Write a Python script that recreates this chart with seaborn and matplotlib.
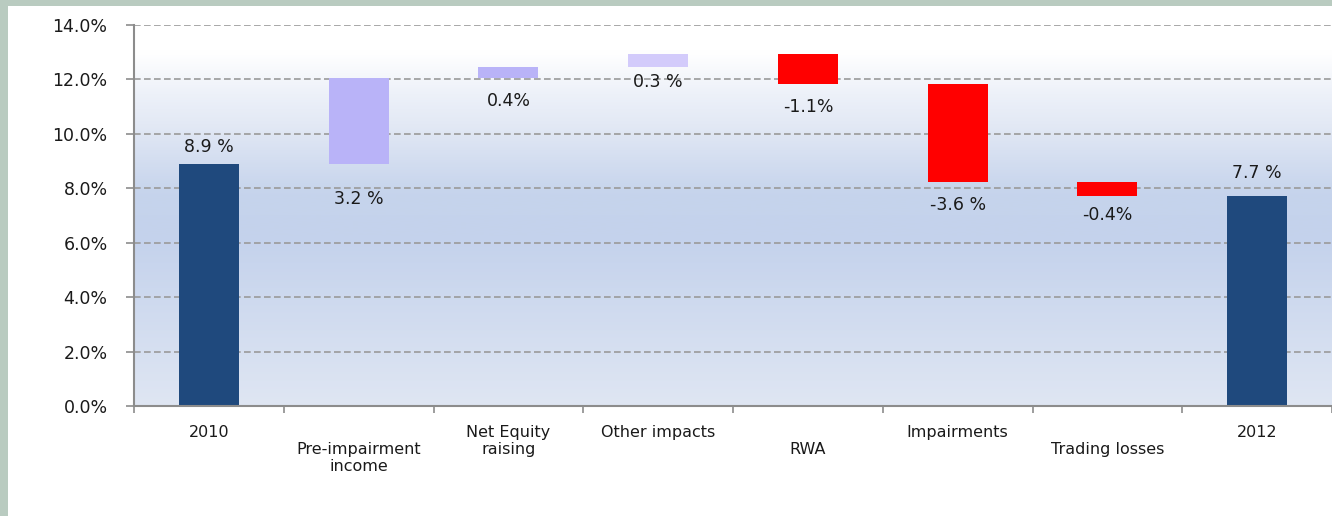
import numpy as np
import pandas as pd
import matplotlib
matplotlib.use("Agg")
import matplotlib.pyplot as plt
import seaborn as sns
from matplotlib.colors import LinearSegmentedColormap
from matplotlib.patches import Rectangle

# ---- data ----
categories = ["2010", "Pre-impairment\nincome", "Net Equity\nraising", "Other impacts",
              "RWA", "Impairments", "Trading losses", "2012"]
bar_bottoms = [0.0, 8.90, 12.06, 12.45, 11.84, 8.22, 7.72, 0.0]
bar_heights = [8.90, 3.16, 0.39, 0.50, 1.11, 3.62, 0.50, 7.72]
value_labels = ["8.9 %", "3.2 %", "0.4%", "0.3 %", "-1.1%", "-3.6 %", "-0.4%", "7.7 %"]
y_ticks = [0, 2, 4, 6, 8, 10, 12, 14]

# ---- styling ----
bar_colors = ["#1f497d", "#b9b3f8", "#b9b3f8", "#d3cbfb",
              "#ff0000", "#ff0000", "#ff0000", "#1f497d"]
label_above = [True, False, False, False, False, False, False, True]
label_offsets_pt = [12, -25, -17, -11, -17, -16, -14, 16.5]
second_row = [False, True, False, False, True, False, True, False]

sns.set_theme(style="white")
plt.rcParams["font.family"] = ["DejaVu Sans"]

fig = plt.figure(figsize=(13.32, 5.16), dpi=100, facecolor="white")
ax = fig.add_axes([134 / 1332, 110 / 516, 1 - 134 / 1332, 381 / 516])

df = pd.DataFrame({"category": categories, "height": bar_heights, "bottom": bar_bottoms})
sns.barplot(data=df, x="category", y="height", bottom=df["bottom"].values,
            color=bar_colors[0], width=0.4, errorbar=None, saturation=1,
            linewidth=0, ax=ax, zorder=2)
for patch, c in zip(ax.patches, bar_colors):
    patch.set_facecolor(c)
    patch.set_edgecolor(c)

# gradient background
cmap = LinearSegmentedColormap.from_list(
    "bg", [(0.0, "#ffffff"), (0.07, "#ffffff"), (0.18, "#edf1f9"), (0.26, "#e3e9f5"),
           (0.44, "#c6d4ec"), (0.56, "#c4d2ec"), (1.0, "#dfe6f3")])
grad = np.linspace(0, 1, 256).reshape(-1, 1)
ax.imshow(grad, cmap=cmap, extent=[-0.5, 7.5, 0, 14], aspect="auto",
          origin="upper", zorder=0, interpolation="bicubic")
ax.set_xlim(-0.5, 7.5)
ax.set_ylim(0, 14)

# grid
ax.set_yticks(y_ticks)
ax.set_yticklabels([f"{v:.1f}%" for v in y_ticks], fontsize=12.5, color="#1a1a1a")
ax.yaxis.grid(True, color="#9a9a9a", linestyle=(0, (4, 2)), linewidth=1.2, zorder=1)
ax.xaxis.grid(False)
ax.set_axisbelow(True)
for gl in ax.get_ygridlines():
    gl.set_zorder(1)

# spines
for s in ["top", "right"]:
    ax.spines[s].set_visible(False)
for s in ["left", "bottom"]:
    ax.spines[s].set_color("#8c8c8c")
    ax.spines[s].set_linewidth(1.5)
    ax.spines[s].set_zorder(3)

ax.tick_params(axis="y", which="major", left=True, length=6, width=1.2,
               color="#8c8c8c", pad=13, direction="out")

# x labels (staggered as in the reference)
xlabels = [("\n" + c) if sr else c for c, sr in zip(categories, second_row)]
ax.set_xticks(range(len(categories)))
ax.set_xticklabels(xlabels, fontsize=11.5, color="#1a1a1a", linespacing=1.15)
ax.tick_params(axis="x", which="major", length=0, pad=14)
ax.set_xticks(np.arange(-0.5, 8.0, 1.0), minor=True)
ax.tick_params(axis="x", which="minor", bottom=True, length=5, width=1.2,
               color="#8c8c8c", direction="out")
ax.set_xlabel("")
ax.set_ylabel("")

# value labels
for i, (b, h, lab) in enumerate(zip(bar_bottoms, bar_heights, value_labels)):
    anchor = b + h if label_above[i] else b
    ax.annotate(lab, xy=(i, anchor), xytext=(0, label_offsets_pt[i]),
                textcoords="offset points", ha="center", va="center",
                fontsize=12.5, color="#1a1a1a", zorder=4)

# outer frame strips
fig.patches.append(Rectangle((0, 0), 8 / 1332, 1, transform=fig.transFigure,
                             facecolor="#b9cbc0", edgecolor="none", zorder=-1))
fig.patches.append(Rectangle((0, 1 - 6 / 516), 1, 6 / 516, transform=fig.transFigure,
                             facecolor="#b9cbc0", edgecolor="none", zorder=-1))

fig.savefig("out.png", dpi=100, facecolor="white")
